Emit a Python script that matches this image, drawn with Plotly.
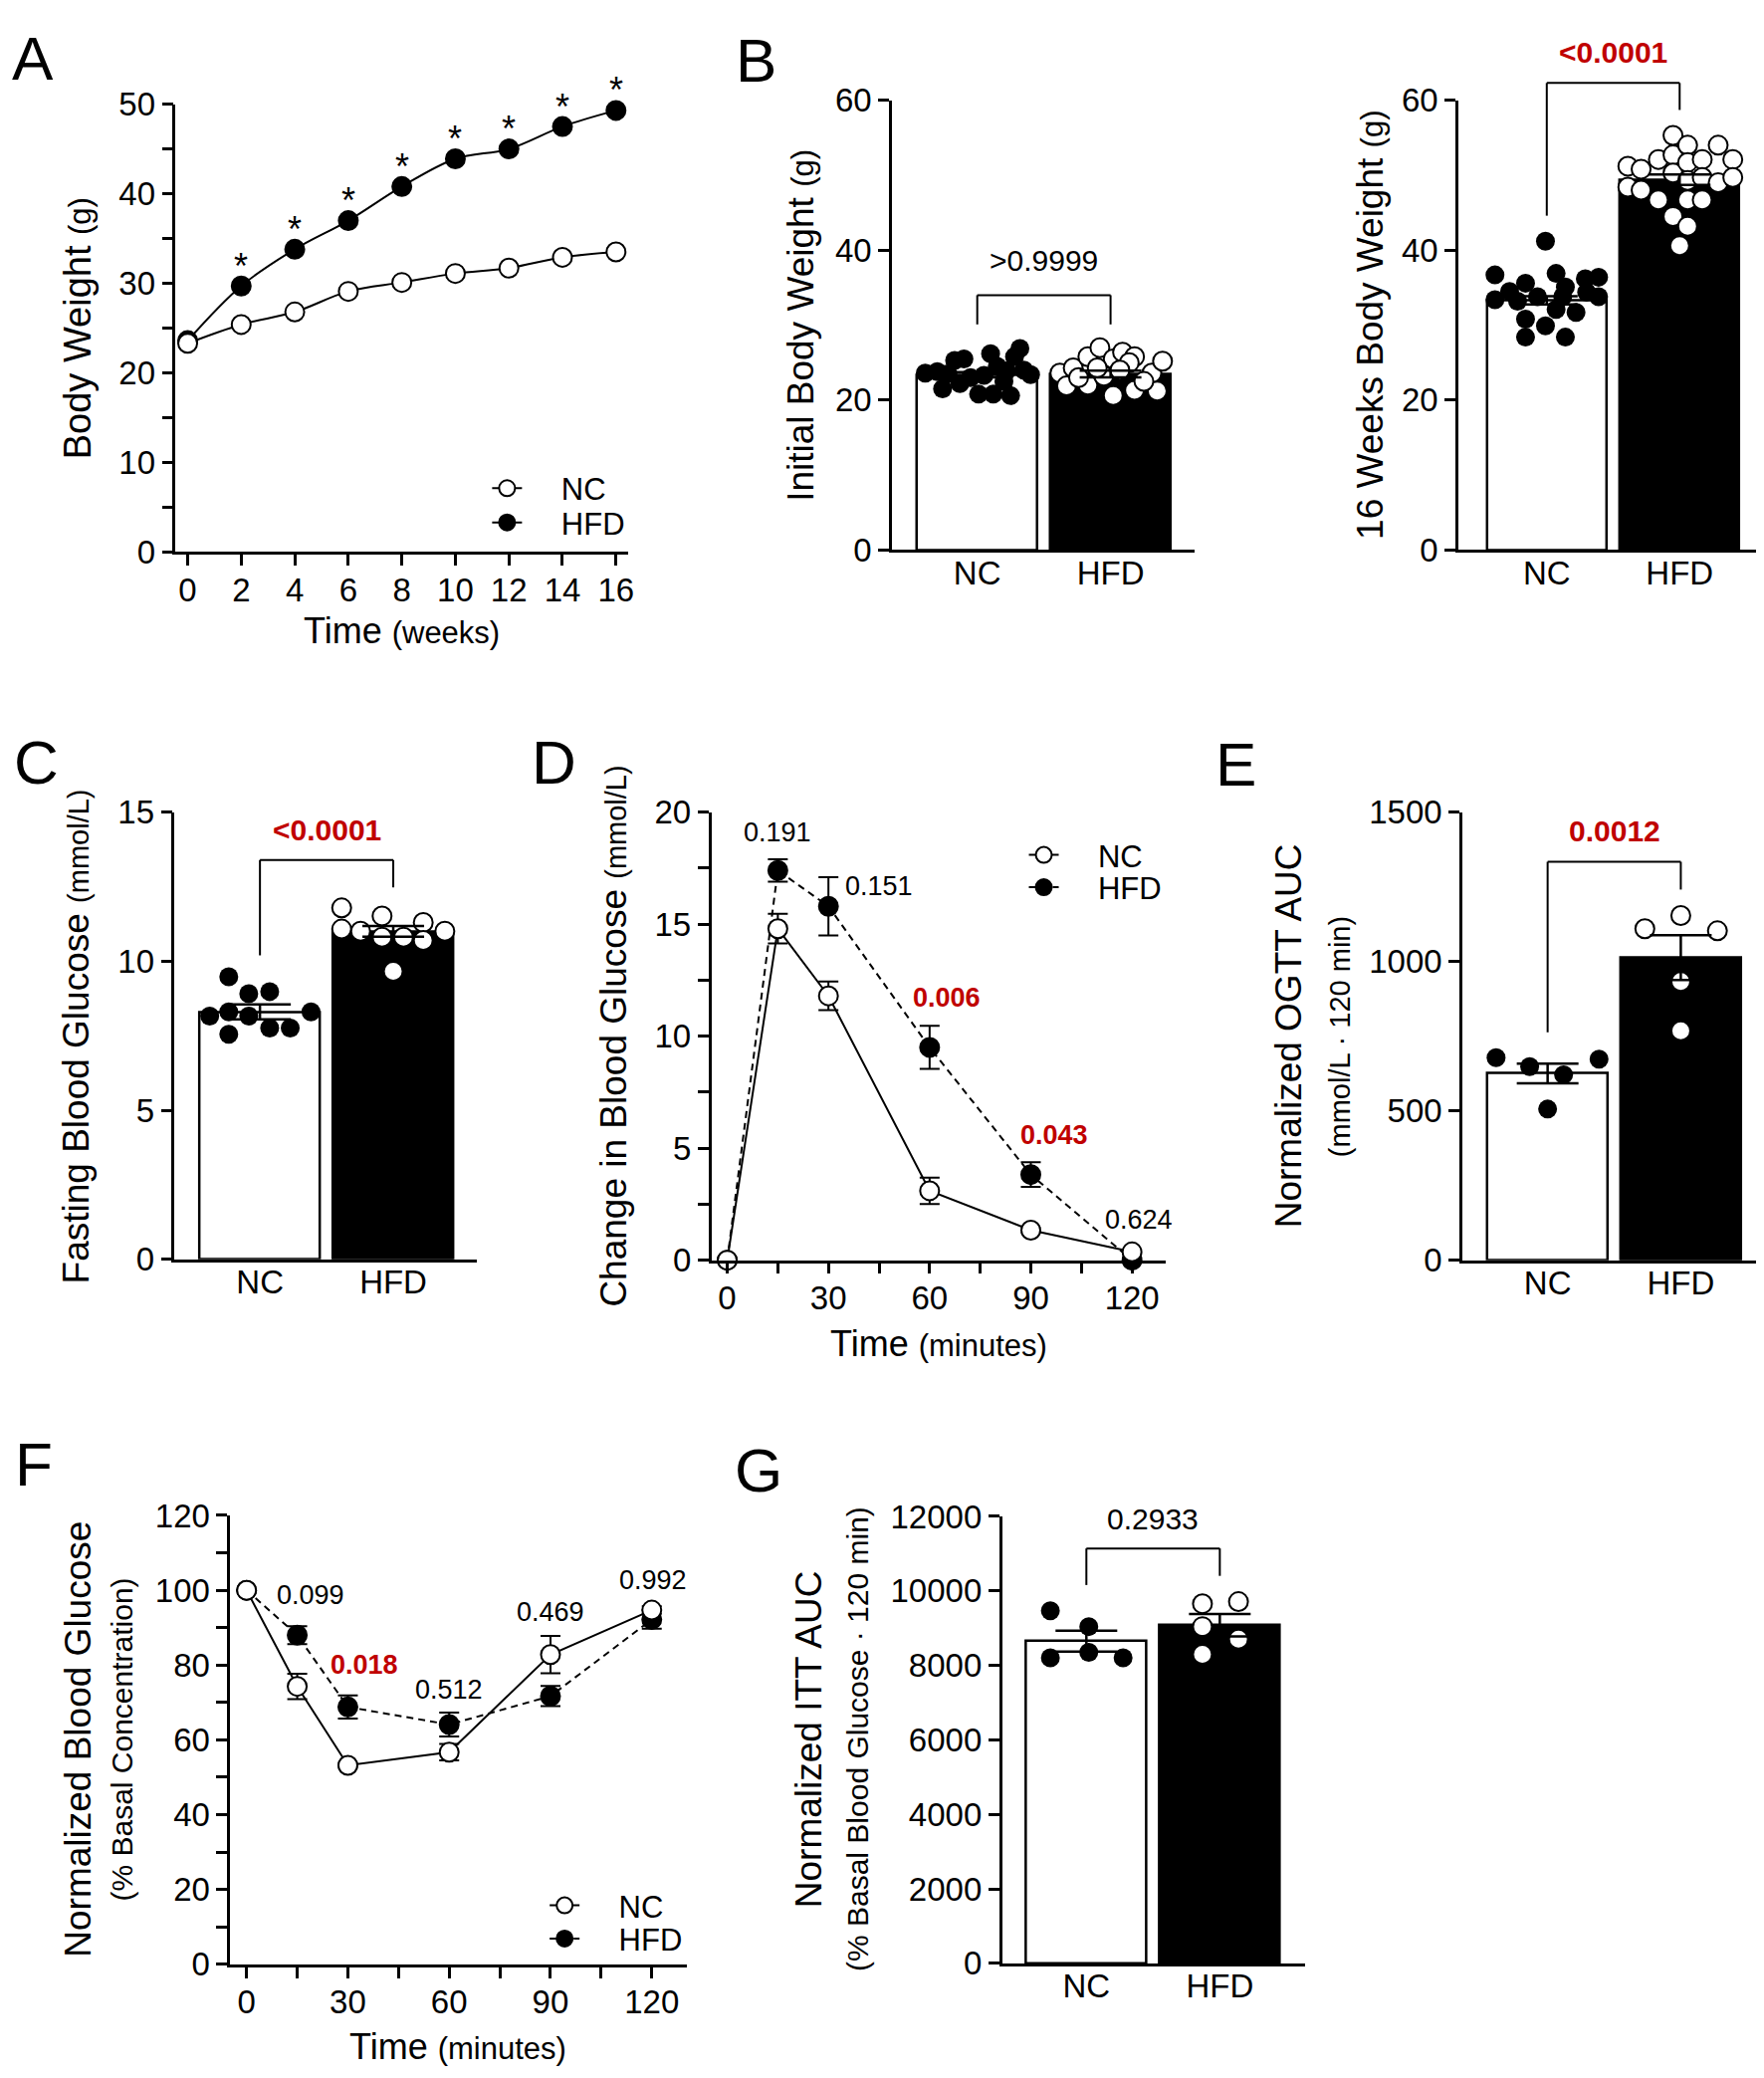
import numpy as np
import plotly.graph_objects as go

W, H = 1772, 2087
FONT = "Liberation Sans, Arial, Helvetica, sans-serif"
RED = "#C00000"

# ---- A: body weight over time
weeks = [0, 2, 4, 6, 8, 10, 12, 14, 16]
bw_nc = [23.3, 25.4, 26.8, 29.1, 30.1, 31.1, 31.7, 32.9, 33.5]
bw_hfd = [23.6, 29.7, 33.8, 37.0, 40.8, 43.9, 45.0, 47.5, 49.3]
star_weeks = [2, 4, 6, 8, 10, 12, 14, 16]

groups = ["NC", "HFD"]

# ---- B: initial / 16 week body weight
init_mean = [23.4, 23.5]
init_sem = [0.35, 0.45]
init_nc = [23.6, 23.8, 23.5, 25.3, 25.5, 21.5, 22.2, 20.8, 23.3, 26.2,
           24.5, 20.8, 22.5, 20.6, 25.8, 26.9, 23.4, 24.0, 23.0, 23.9]
init_nc_dx = [-0.39, -0.30, -0.22, -0.17, -0.10, -0.26, -0.13, 0.01, 0.05, 0.10,
              0.15, 0.12, 0.20, 0.25, 0.28, 0.32, 0.40, 0.35, -0.05, 0.22]
init_hfd = [23.6, 21.9, 24.3, 25.8, 27.0, 25.5, 26.4, 25.8, 25.0, 23.6,
            25.2, 22.0, 23.2, 20.6, 21.3, 21.2, 24.3, 24.0, 22.5, 23.0]
init_hfd_dx = [-0.38, -0.33, -0.28, -0.17, -0.08, 0.02, 0.09, 0.18, 0.14, 0.31,
               0.39, -0.17, -0.05, 0.02, 0.18, 0.35, -0.10, 0.07, 0.25, -0.24]

final_mean = [33.3, 49.4]
final_sem = [0.55, 0.7]
final_nc = [36.7, 41.2, 33.4, 34.5, 35.6, 30.8, 28.4, 29.9, 36.9, 32.1,
            35.1, 28.4, 31.7, 36.2, 36.4, 33.8, 33.2, 33.8, 33.8, 34.4]
final_nc_dx = [-0.39, -0.01, -0.39, -0.28, -0.16, -0.16, -0.16, -0.01, 0.07, 0.07,
               0.14, 0.14, 0.22, 0.29, 0.39, 0.39, -0.22, -0.07, 0.12, 0.30]
final_hfd = [51.2, 50.8, 48.4, 48.0, 52.1, 46.7, 55.3, 52.7, 50.3, 44.5, 54.0, 51.7,
             49.3, 46.7, 43.2, 40.6, 52.1, 49.7, 46.7, 54.0, 49.0, 52.1, 49.7]
final_hfd_dx = [-0.39, -0.29, -0.39, -0.29, -0.16, -0.16, -0.05, -0.05, -0.05, -0.05, 0.06, 0.06,
                0.06, 0.06, 0.06, 0.0, 0.17, 0.17, 0.17, 0.29, 0.29, 0.40, 0.40]

# ---- C: fasting blood glucose
fbg_mean = [8.3, 11.0]
fbg_sem = [0.25, 0.18]
fbg_nc = [8.16, 9.48, 8.30, 7.55, 8.91, 8.16, 8.98, 7.76, 7.76, 8.30]
fbg_nc_dx = [-0.377, -0.234, -0.234, -0.234, -0.084, -0.084, 0.073, 0.073, 0.227, 0.383]
fbg_hfd = [11.79, 11.08, 11.01, 11.52, 10.81, 10.81, 11.30, 10.70, 11.01, 9.66]
fbg_hfd_dx = [-0.387, -0.387, -0.245, -0.084, -0.084, 0.077, 0.225, 0.225, 0.387, 0.0]

# ---- D: OGTT
minutes = [0, 15, 30, 60, 90, 120]
ogtt_nc = [0, 14.8, 11.8, 3.1, 1.34, 0.37]
ogtt_nc_err = [0, 0.66, 0.64, 0.59, 0.1, 0.1]
ogtt_hfd = [0, 17.4, 15.8, 9.5, 3.82, 0.0]
ogtt_hfd_err = [0, 0.5, 1.3, 0.96, 0.55, 0.1]
ogtt_p = ["0.191", "0.151", "0.006", "0.043", "0.624"]
ogtt_p_x = [15, 45, 65, 97, 122]
ogtt_p_y = [19.1, 16.7, 11.7, 5.6, 1.8]
ogtt_p_sig = [False, False, True, True, False]

# ---- E: OGTT AUC
oauc_mean = [625, 1013]
oauc_sem = [33, 75]
oauc_nc = [678, 648, 621, 673, 506]
oauc_nc_dx = [-0.387, -0.135, 0.12, 0.386, 0.0]
oauc_hfd = [1110, 1154, 1103, 933, 768]
oauc_hfd_dx = [-0.27, 0.0, 0.275, 0.0, 0.0]

# ---- F: ITT
itt_nc = [100, 74.3, 53.2, 56.7, 82.8, 94.7]
itt_nc_err = [0, 3.4, 0.5, 2.2, 5.0, 1.0]
itt_hfd = [100, 88.0, 68.8, 64.1, 71.7, 92.2]
itt_hfd_err = [0, 2.4, 3.1, 3.2, 2.7, 2.5]
itt_p = ["0.099", "0.018", "0.512", "0.469", "0.992"]
itt_p_x = [19, 35, 60, 90, 120.5]
itt_p_y = [98.6, 80.2, 73.3, 94.1, 102.7]
itt_p_sig = [False, True, False, False, False]

# ---- G: ITT AUC
iauc_mean = [8650, 9080]
iauc_sem = [280, 300]
iauc_nc = [9466, 9042, 8205, 8350, 8205]
iauc_nc_dx = [-0.27, 0.018, -0.27, 0.018, 0.275]
iauc_hfd = [9656, 9712, 9042, 8707, 8294]
iauc_hfd_dx = [-0.13, 0.14, -0.13, 0.14, -0.13]


def xdom(a, b):
    return [a / W, b / W]


def ydom(top, bottom):
    return [1 - bottom / H, 1 - top / H]


def ids(n):
    s = "" if n == 1 else str(n)
    return "x" + s, "y" + s, "xaxis" + s, "yaxis" + s


fig = go.Figure()
layout = {}
shapes = []
annots = []

tick_style = dict(showline=True, linecolor="black", linewidth=2.5, ticks="outside",
                  ticklen=11, tickwidth=2.5, tickcolor="black", showgrid=False,
                  zeroline=False, tickfont=dict(size=33, color="black", family=FONT))
minor_style = dict(ticks="outside", ticklen=11, tickwidth=2.5, tickcolor="black")


def set_axes(n, xd, yd, xr, yr, xkw=None, ykw=None):
    xa, ya, xk, yk = ids(n)
    xo = dict(tick_style, domain=xd, range=xr, anchor=ya, ticklabelstandoff=-4)
    xo.update(xkw or {})
    yo = dict(tick_style, domain=yd, range=yr, anchor=xa, tickformat="d")
    yo.update(ykw or {})
    layout[xk] = xo
    layout[yk] = yo


cat_x = dict(tickvals=[0, 1], ticktext=groups, ticks="", ticklen=0, ticklabelstandoff=-8)


def bar_panel(n, means, sems, nc, nc_dx, hfd, hfd_dx):
    xa, ya, _, _ = ids(n)
    fig.add_trace(go.Bar(x=[0, 1], y=means, width=0.9, xaxis=xa, yaxis=ya, showlegend=False,
                         marker=dict(color=["white", "black"], line=dict(color="black", width=2.5))))
    fig.add_trace(go.Scatter(x=np.array(nc_dx), y=nc, mode="markers", xaxis=xa, yaxis=ya,
                             showlegend=False, cliponaxis=False,
                             marker=dict(size=19, color="black", line=dict(width=0))))
    fig.add_trace(go.Scatter(x=1 + np.array(hfd_dx), y=hfd, mode="markers", xaxis=xa, yaxis=ya,
                             showlegend=False, cliponaxis=False,
                             marker=dict(size=19, color="white", line=dict(color="black", width=2))))
    fig.add_trace(go.Scatter(x=[0, 1], y=means, mode="markers", xaxis=xa, yaxis=ya, showlegend=False,
                             marker=dict(size=2, opacity=0),
                             error_y=dict(type="data", array=sems, color="black", thickness=2.5, width=31)))


def bracket(n, yr, leg0, leg1, top, ytext, label, sig):
    xa, ya, _, _ = ids(n)
    f = lambda v: (v - yr[0]) / (yr[1] - yr[0])
    yref = ya + " domain"
    for (x0, y0, x1, y1) in [(0, leg0, 0, top), (0, top, 1, top), (1, top, 1, leg1)]:
        shapes.append(dict(type="line", xref=xa, yref=yref, x0=x0, x1=x1, y0=f(y0), y1=f(y1),
                           line=dict(color="black", width=2)))
    txt = label.replace("<", "&lt;").replace(">", "&gt;")
    annots.append(dict(xref=xa, yref=yref, x=0.5, y=f(ytext),
                       text="<b>%s</b>" % txt if sig else txt, showarrow=False,
                       xanchor="center", yanchor="middle",
                       font=dict(size=30, family=FONT, color=RED if sig else "black")))


PAD = "\u00a0" * 4


def line_panel(n, t, nc, nc_err, hfd, hfd_err, leg_nc, leg_hfd, dash):
    xa, ya, _, _ = ids(n)
    shape = "spline" if n == 1 else "linear"
    fig.add_trace(go.Scatter(x=t, y=hfd, mode="lines+markers", name=PAD + "HFD", legend=leg_hfd,
                             xaxis=xa, yaxis=ya, cliponaxis=False,
                             line=dict(color="black", width=2, dash=dash, shape=shape),
                             marker=dict(size=19, color="black", line=dict(color="black", width=2)),
                             error_y=dict(type="data", array=hfd_err, color="black", thickness=2, width=10,
                                          visible=hfd_err is not None)))
    fig.add_trace(go.Scatter(x=t, y=nc, mode="lines+markers", name=PAD + "NC", legend=leg_nc,
                             xaxis=xa, yaxis=ya, cliponaxis=False,
                             line=dict(color="black", width=2, shape=shape),
                             marker=dict(size=19, color="white", line=dict(color="black", width=2)),
                             error_y=dict(type="data", array=nc_err, color="black", thickness=2, width=10,
                                          visible=nc_err is not None)))


# A
set_axes(1, xdom(169, 625), ydom(80, 538), [-0.45, 16.45], [0, 50],
         dict(dtick=2, tick0=0), dict(dtick=10, minor=dict(minor_style, dtick=5)))
line_panel(1, weeks, bw_nc, None, bw_hfd, None, "legend", "legend4", "solid")
for w in star_weeks:
    annots.append(dict(xref="x", yref="y", x=w, y=bw_hfd[weeks.index(w)], text="*", showarrow=False,
                       yanchor="middle", yshift=20, font=dict(size=36, family=FONT, color="black")))

# B
bx_r = [-0.64, 1.63]
set_axes(2, xdom(891, 1196), ydom(76, 536), bx_r, [0, 60], cat_x, dict(dtick=20))
bar_panel(2, init_mean, init_sem, init_nc, init_nc_dx, init_hfd, init_hfd_dx)
bracket(2, [0, 60], 30.1, 30.1, 34.0, 38.6, ">0.9999", False)

set_axes(3, xdom(1462, 1768), ydom(76, 536), [-0.665, 1.62], [0, 60], cat_x, dict(dtick=20))
bar_panel(3, final_mean, final_sem, final_nc, final_nc_dx, final_hfd, final_hfd_dx)
bracket(3, [0, 60], 44.6, 58.7, 62.3, 66.4, "<0.0001", True)

# C
set_axes(4, xdom(168, 473), ydom(804, 1261), bx_r, [0, 15], cat_x, dict(dtick=5))
bar_panel(4, fbg_mean, fbg_sem, fbg_nc, fbg_nc_dx, fbg_hfd, fbg_hfd_dx)
bracket(4, [0, 15], 10.2, 12.48, 13.4, 14.42, "<0.0001", True)

# D
time_x = dict(tickvals=[0, 30, 60, 90, 120], minor=dict(minor_style, dtick=15, tick0=0))
set_axes(5, xdom(709, 1167), ydom(804, 1262), [-4.7, 130], [0, 20], time_x,
         dict(dtick=5, minor=dict(minor_style, dtick=2.5)))
line_panel(5, minutes, ogtt_nc, ogtt_nc_err, ogtt_hfd, ogtt_hfd_err, "legend2", "legend5", "7px,5px")
for lab, px, py, sig in zip(ogtt_p, ogtt_p_x, ogtt_p_y, ogtt_p_sig):
    annots.append(dict(xref="x5", yref="y5", x=px, y=py, showarrow=False,
                       text="<b>%s</b>" % lab if sig else lab,
                       font=dict(size=27, family=FONT, color=RED if sig else "black")))

# E
set_axes(6, xdom(1466, 1768), ydom(804, 1262), [-0.64, 1.61], [0, 1500], cat_x, dict(dtick=500))
bar_panel(6, oauc_mean, oauc_sem, oauc_nc, oauc_nc_dx, oauc_hfd, oauc_hfd_dx)
bracket(6, [0, 1500], 763, 1241, 1334, 1436, "0.0012", True)

# F
set_axes(7, xdom(224, 684), ydom(1523, 1982), [-4.85, 130.3], [0, 120], time_x,
         dict(dtick=20, minor=dict(minor_style, dtick=10)))
line_panel(7, minutes, itt_nc, itt_nc_err, itt_hfd, itt_hfd_err, "legend3", "legend6", "7px,5px")
for lab, px, py, sig in zip(itt_p, itt_p_x, itt_p_y, itt_p_sig):
    annots.append(dict(xref="x7", yref="y7", x=px, y=py, showarrow=False,
                       text="<b>%s</b>" % lab if sig else lab,
                       font=dict(size=27, family=FONT, color=RED if sig else "black")))

# G
set_axes(8, xdom(1002, 1307), ydom(1524, 1981), [-0.632, 1.636], [0, 12000], cat_x, dict(dtick=2000))
bar_panel(8, iauc_mean, iauc_sem, iauc_nc, iauc_nc_dx, iauc_hfd, iauc_hfd_dx)
bracket(8, [0, 12000], 10158, 10404, 11140, 11944, "0.2933", False)


def label(text, x, y, size=37, angle=-90):
    annots.append(dict(xref="paper", yref="paper", x=x / W, y=1 - y / H, text=text, showarrow=False,
                       textangle=angle, xanchor="center", yanchor="middle",
                       font=dict(size=size, family=FONT, color="black")))


def small(t, s=29):
    return "<span style='font-size:%dpx'>%s</span>" % (s, t)


label("Body Weight " + small("(g)", 31), 70, 309, 38)
label("Time " + small("(weeks)", 31), 397, 618, 36, 0)
label("Initial Body Weight " + small("(g)", 31), 799, 306)
label("16 Weeks Body Weight " + small("(g)", 31), 1373, 306)
label("Fasting Blood Glucose " + small("(mmol/L)"), 69, 1033)
label("Change in Blood Glucose " + small("(mmol/L)"), 611, 1033)
label("Time " + small("(minutes)", 31), 938, 1347, 36, 0)
label("Normalized OGTT AUC", 1291, 1033)
label("(mmol/L · 120 min)", 1342, 1033, 29)
label("Normalized Blood Glucose", 71, 1752)
label("(% Basal Concentration)", 115, 1752, 30)
label("Time " + small("(minutes)", 31), 454, 2066, 36, 0)
label("Normalized ITT AUC", 808, 1752)
label("(% Basal Blood Glucose · 120 min)", 857, 1752, 30)

for letter, lx, ly in [("A", 2, 8), ("B", 731, 10), ("C", 4, 728), ("D", 526, 728),
                       ("E", 1215, 730), ("F", 5, 1445), ("G", 730, 1452)]:
    annots.append(dict(xref="paper", yref="paper", x=lx / W, y=1 - (ly - 12) / H, text=letter,
                       showarrow=False, xanchor="left", yanchor="top",
                       font=dict(size=62, family=FONT, color="black")))

leg = dict(xanchor="left", yanchor="middle", bgcolor="rgba(0,0,0,0)",
           font=dict(size=31, family=FONT, color="black"), tracegroupgap=0)


def leg_at(mx, my):
    return dict(leg, x=(mx - 20) / W, y=1 - my / H)


fig.update_layout(
    width=W, height=H, margin=dict(l=0, r=0, t=0, b=0),
    paper_bgcolor="white", plot_bgcolor="white",
    font=dict(family=FONT, color="black"),
    bargap=0, showlegend=True,
    legend=leg_at(503, 473), legend4=leg_at(503, 508),
    legend2=leg_at(1044, 848), legend5=leg_at(1044, 881),
    legend3=leg_at(561, 1922), legend6=leg_at(561, 1956),
    shapes=shapes, annotations=annots,
    **layout,
)

fig.write_html("out.html")
